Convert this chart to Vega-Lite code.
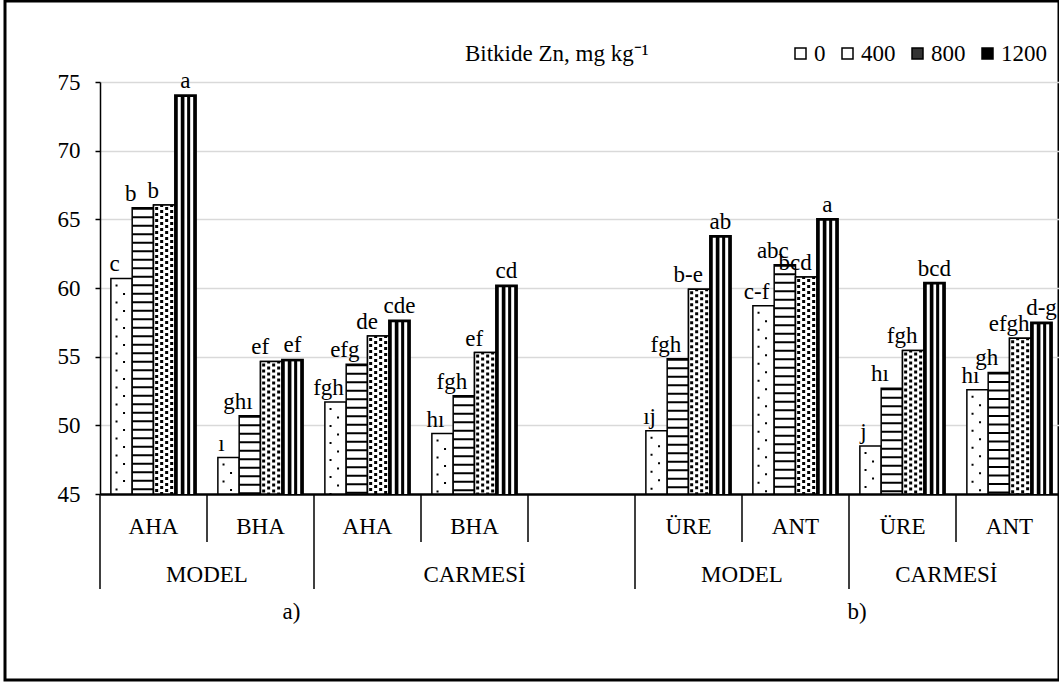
{
  "$schema": "https://vega.github.io/schema/vega-lite/v6.json",
  "width": 1054,
  "height": 679,
  "autosize": "none",
  "padding": {"left": 5, "top": 1, "right": 0, "bottom": 4},
  "background": "white",
  "config": {
    "font": "Liberation Serif",
    "view": {"stroke": "black", "strokeWidth": 3},
    "text": {"font": "Liberation Serif", "fontSize": 23, "color": "black"}
  },
  "data": {
    "values": [
      {"k": "AHA", "Zn": "0", "v": 60.7, "t": "c"},
      {"k": "AHA", "Zn": "400", "v": 65.85, "t": "b"},
      {"k": "AHA", "Zn": "800", "v": 66.05, "t": "b"},
      {"k": "AHA", "Zn": "1200", "v": 74.05, "t": "a"},
      {"k": "BHA", "Zn": "0", "v": 47.65, "t": "ı"},
      {"k": "BHA", "Zn": "400", "v": 50.7, "t": "ghı"},
      {"k": "BHA", "Zn": "800", "v": 54.65, "t": "ef"},
      {"k": "BHA", "Zn": "1200", "v": 54.8, "t": "ef"},
      {"k": "AHA ", "Zn": "0", "v": 51.7, "t": "fgh"},
      {"k": "AHA ", "Zn": "400", "v": 54.45, "t": "efg"},
      {"k": "AHA ", "Zn": "800", "v": 56.5, "t": "de"},
      {"k": "AHA ", "Zn": "1200", "v": 57.65, "t": "cde"},
      {"k": "BHA ", "Zn": "0", "v": 49.4, "t": "hı"},
      {"k": "BHA ", "Zn": "400", "v": 52.15, "t": "fgh"},
      {"k": "BHA ", "Zn": "800", "v": 55.3, "t": "ef"},
      {"k": "BHA ", "Zn": "1200", "v": 60.2, "t": "cd"},
      {"k": "ÜRE", "Zn": "0", "v": 49.6, "t": "ıj"},
      {"k": "ÜRE", "Zn": "400", "v": 54.85, "t": "fgh"},
      {"k": "ÜRE", "Zn": "800", "v": 59.9, "t": "b-e"},
      {"k": "ÜRE", "Zn": "1200", "v": 63.8, "t": "ab"},
      {"k": "ANT", "Zn": "0", "v": 58.7, "t": "c-f"},
      {"k": "ANT", "Zn": "400", "v": 61.7, "t": "abc"},
      {"k": "ANT", "Zn": "800", "v": 60.8, "t": "bcd"},
      {"k": "ANT", "Zn": "1200", "v": 65.05, "t": "a"},
      {"k": "ÜRE ", "Zn": "0", "v": 48.5, "t": "j"},
      {"k": "ÜRE ", "Zn": "400", "v": 52.7, "t": "hı"},
      {"k": "ÜRE ", "Zn": "800", "v": 55.45, "t": "fgh"},
      {"k": "ÜRE ", "Zn": "1200", "v": 60.4, "t": "bcd"},
      {"k": "ANT ", "Zn": "0", "v": 52.6, "t": "hı"},
      {"k": "ANT ", "Zn": "400", "v": 53.85, "t": "gh"},
      {"k": "ANT ", "Zn": "800", "v": 56.35, "t": "efgh"},
      {"k": "ANT ", "Zn": "1200", "v": 57.5, "t": "d-g"},
      {"kind": "l1", "k": "AHA", "t": "AHA"},
      {"kind": "l1", "k": "BHA", "t": "BHA"},
      {"kind": "l1", "k": "AHA ", "t": "AHA"},
      {"kind": "l1", "k": "BHA ", "t": "BHA"},
      {"kind": "l1", "k": "ÜRE", "t": "ÜRE"},
      {"kind": "l1", "k": "ANT", "t": "ANT"},
      {"kind": "l1", "k": "ÜRE ", "t": "ÜRE"},
      {"kind": "l1", "k": "ANT ", "t": "ANT"},
      {"kind": "g2", "k": "BHA", "t": "MODEL"},
      {"kind": "g2", "k": "ANT", "t": "MODEL"},
      {"kind": "cA", "k": "BHA ", "t": "CARMESİ"},
      {"kind": "cB", "k": "ÜRE ", "t": "CARMESİ"},
      {"kind": "pa", "k": "BHA", "t": "a)"},
      {"kind": "pb", "k": "ÜRE ", "t": "b)"},
      {"kind": "t1", "k": "BHA"},
      {"kind": "t1", "k": "BHA "},
      {"kind": "t1", "k": "  "},
      {"kind": "t1", "k": "ANT"},
      {"kind": "t1", "k": "ANT "},
      {"kind": "sep", "k": "AHA"},
      {"kind": "sep", "k": "AHA "},
      {"kind": "sep", "k": "ÜRE"},
      {"kind": "sep", "k": "ÜRE "}
    ]
  },
  "encoding": {
    "x": {
      "field": "k", "type": "nominal",
      "scale": {"domain": ["AHA", "BHA", "AHA ", "BHA ", "  ", "ÜRE", "ANT", "ÜRE ", "ANT "], "range": [95, 1058], "paddingInner": 0, "paddingOuter": 0},
      "axis": null
    },
    "y": {
      "field": "v", "type": "quantitative",
      "scale": {"domain": [45, 75], "range": [493, 81], "nice": false, "zero": false},
      "axis": {"title": null, "offset": -95, "values": [45, 50, 55, 60, 65, 70, 75], "tickSize": 5, "tickWidth": 1.5, "tickColor": "black", "domainColor": "black", "domainWidth": 1.5, "labelFont": "Liberation Serif", "labelFontSize": 23, "labelColor": "black", "labelPadding": 15, "grid": true, "gridColor": {"condition": {"test": "datum.value === 45", "value": "black"}, "value": "#d9d9d9"}, "gridWidth": {"condition": {"test": "datum.value === 45", "value": 2.5}, "value": 1.5}}
    }
  },
  "layer": [
    {
      "transform": [{"filter": "isValid(datum.Zn)"}],
      "mark": {"type": "bar", "stroke": "black", "strokeWidth": 1.5},
      "encoding": {
        "xOffset": {"field": "Zn", "type": "nominal", "scale": {"domain": ["0", "400", "800", "1200"], "paddingInner": 0, "paddingOuter": 0.51}},
        "y2": {"datum": 45},
        "fill": {
          "field": "Zn", "type": "nominal",
          "scale": {"domain": ["0", "400", "800", "1200"], "range": ["white", "white", "#333333", "black"]},
          "legend": {"title": "Bitkide Zn, mg kg⁻¹", "orient": "none", "legendX": 460, "legendY": 41, "direction": "horizontal", "titleOrient": "left", "titlePadding": 140, "titleLimit": 600, "titleFont": "Liberation Serif", "titleFontSize": 23, "titleFontWeight": "normal", "titleColor": "black", "symbolType": "square", "symbolSize": 121, "symbolStrokeColor": "black", "symbolStrokeWidth": 1.5, "symbolOpacity": 1, "labelFont": "Liberation Serif", "labelFontSize": 23, "labelColor": "black", "labelOffset": 2, "columnPadding": 10, "gridAlign": "none"}
        }
      }
    },
    {
      "transform": [{"filter": "datum.Zn == '800'"}],
      "mark": {"type": "bar", "fill": "white", "stroke": "black", "strokeWidth": 1.5},
      "encoding": {
        "xOffset": {"field": "Zn", "type": "nominal", "scale": {"domain": ["0", "400", "800", "1200"], "paddingInner": 0, "paddingOuter": 0.51}},
        "y2": {"datum": 45}
      }
    },
    {
      "transform": [{"filter": "datum.Zn == '400'"}],
      "mark": {"type": "rule", "color": "black", "strokeWidth": 21, "strokeDash": [2, 6.5], "strokeCap": "butt"},
      "encoding": {
        "x": {"field": "k", "type": "nominal", "bandPosition": 0.4005, "axis": null, "scale": {"domain": ["AHA", "BHA", "AHA ", "BHA ", "  ", "ÜRE", "ANT", "ÜRE ", "ANT "], "range": [95, 1058], "paddingInner": 0, "paddingOuter": 0}},
        "y2": {"datum": 45}
      }
    },
    {
      "transform": [{"filter": "datum.Zn == '0'"}],
      "mark": {"type": "rule", "color": "black", "strokeWidth": 2, "strokeDash": [2, 15], "strokeDashOffset": -6, "strokeCap": "butt"},
      "encoding": {
        "x": {"field": "k", "type": "nominal", "bandPosition": 0.1545, "axis": null, "scale": {"domain": ["AHA", "BHA", "AHA ", "BHA ", "  ", "ÜRE", "ANT", "ÜRE ", "ANT "], "range": [95, 1058], "paddingInner": 0, "paddingOuter": 0}},
        "y2": {"datum": 45}
      }
    },
    {
      "transform": [{"filter": "datum.Zn == '0'"}],
      "mark": {"type": "rule", "color": "black", "strokeWidth": 2, "strokeDash": [2, 15], "strokeDashOffset": -14.5, "strokeCap": "butt"},
      "encoding": {
        "x": {"field": "k", "type": "nominal", "bandPosition": 0.2246, "axis": null, "scale": {"domain": ["AHA", "BHA", "AHA ", "BHA ", "  ", "ÜRE", "ANT", "ÜRE ", "ANT "], "range": [95, 1058], "paddingInner": 0, "paddingOuter": 0}},
        "y2": {"datum": 45}
      }
    },
    {
      "transform": [{"filter": "datum.Zn == '800'"}],
      "mark": {"type": "rule", "color": "black", "strokeWidth": 3, "strokeDash": [3, 3], "strokeDashOffset": -2, "strokeCap": "butt"},
      "encoding": {
        "x": {"field": "k", "type": "nominal", "bandPosition": 0.5295, "axis": null, "scale": {"domain": ["AHA", "BHA", "AHA ", "BHA ", "  ", "ÜRE", "ANT", "ÜRE ", "ANT "], "range": [95, 1058], "paddingInner": 0, "paddingOuter": 0}},
        "y2": {"datum": 45}
      }
    },
    {
      "transform": [{"filter": "datum.Zn == '800'"}],
      "mark": {"type": "rule", "color": "black", "strokeWidth": 3, "strokeDash": [3, 3], "strokeDashOffset": 1, "strokeCap": "butt"},
      "encoding": {
        "x": {"field": "k", "type": "nominal", "bandPosition": 0.5763, "axis": null, "scale": {"domain": ["AHA", "BHA", "AHA ", "BHA ", "  ", "ÜRE", "ANT", "ÜRE ", "ANT "], "range": [95, 1058], "paddingInner": 0, "paddingOuter": 0}},
        "y2": {"datum": 45}
      }
    },
    {
      "transform": [{"filter": "datum.Zn == '800'"}],
      "mark": {"type": "rule", "color": "black", "strokeWidth": 3, "strokeDash": [3, 3], "strokeDashOffset": -2, "strokeCap": "butt"},
      "encoding": {
        "x": {"field": "k", "type": "nominal", "bandPosition": 0.623, "axis": null, "scale": {"domain": ["AHA", "BHA", "AHA ", "BHA ", "  ", "ÜRE", "ANT", "ÜRE ", "ANT "], "range": [95, 1058], "paddingInner": 0, "paddingOuter": 0}},
        "y2": {"datum": 45}
      }
    },
    {
      "transform": [{"filter": "datum.Zn == '800'"}],
      "mark": {"type": "rule", "color": "black", "strokeWidth": 3, "strokeDash": [3, 3], "strokeDashOffset": 1, "strokeCap": "butt"},
      "encoding": {
        "x": {"field": "k", "type": "nominal", "bandPosition": 0.6697, "axis": null, "scale": {"domain": ["AHA", "BHA", "AHA ", "BHA ", "  ", "ÜRE", "ANT", "ÜRE ", "ANT "], "range": [95, 1058], "paddingInner": 0, "paddingOuter": 0}},
        "y2": {"datum": 45}
      }
    },
    {
      "transform": [{"filter": "datum.Zn == '1200'"}],
      "mark": {"type": "rule", "color": "white", "strokeWidth": 3, "strokeCap": "butt", "yOffset": 2},
      "encoding": {
        "x": {"field": "k", "type": "nominal", "bandPosition": 0.7409, "axis": null, "scale": {"domain": ["AHA", "BHA", "AHA ", "BHA ", "  ", "ÜRE", "ANT", "ÜRE ", "ANT "], "range": [95, 1058], "paddingInner": 0, "paddingOuter": 0}},
        "y2": {"datum": 45}
      }
    },
    {
      "transform": [{"filter": "datum.Zn == '1200'"}],
      "mark": {"type": "rule", "color": "white", "strokeWidth": 2.7, "strokeCap": "butt", "yOffset": 2},
      "encoding": {
        "x": {"field": "k", "type": "nominal", "bandPosition": 0.8017, "axis": null, "scale": {"domain": ["AHA", "BHA", "AHA ", "BHA ", "  ", "ÜRE", "ANT", "ÜRE ", "ANT "], "range": [95, 1058], "paddingInner": 0, "paddingOuter": 0}},
        "y2": {"datum": 45}
      }
    },
    {
      "transform": [{"filter": "datum.Zn == '1200'"}],
      "mark": {"type": "rule", "color": "white", "strokeWidth": 3, "strokeCap": "butt", "yOffset": 2},
      "encoding": {
        "x": {"field": "k", "type": "nominal", "bandPosition": 0.8568, "axis": null, "scale": {"domain": ["AHA", "BHA", "AHA ", "BHA ", "  ", "ÜRE", "ANT", "ÜRE ", "ANT "], "range": [95, 1058], "paddingInner": 0, "paddingOuter": 0}},
        "y2": {"datum": 45}
      }
    },
    {
      "transform": [{"filter": "datum.Zn == '0'"}],
      "mark": {"type": "text", "baseline": "alphabetic", "dy": -7, "dx": -7, "fontSize": 23},
      "encoding": {
        "xOffset": {"field": "Zn", "type": "nominal", "scale": {"domain": ["0", "400", "800", "1200"], "paddingInner": 0, "paddingOuter": 0.51}},
        "text": {"field": "t"}
      }
    },
    {
      "transform": [{"filter": "datum.Zn == '400'"}],
      "mark": {"type": "text", "baseline": "alphabetic", "dy": -7, "dx": -12, "fontSize": 23},
      "encoding": {
        "xOffset": {"field": "Zn", "type": "nominal", "scale": {"domain": ["0", "400", "800", "1200"], "paddingInner": 0, "paddingOuter": 0.51}},
        "text": {"field": "t"}
      }
    },
    {
      "transform": [{"filter": "datum.Zn == '800'"}],
      "mark": {"type": "text", "baseline": "alphabetic", "dy": -7, "dx": -11, "fontSize": 23},
      "encoding": {
        "xOffset": {"field": "Zn", "type": "nominal", "scale": {"domain": ["0", "400", "800", "1200"], "paddingInner": 0, "paddingOuter": 0.51}},
        "text": {"field": "t"}
      }
    },
    {
      "transform": [{"filter": "datum.Zn == '1200'"}],
      "mark": {"type": "text", "baseline": "alphabetic", "dy": -7, "dx": 0, "fontSize": 23},
      "encoding": {
        "xOffset": {"field": "Zn", "type": "nominal", "scale": {"domain": ["0", "400", "800", "1200"], "paddingInner": 0, "paddingOuter": 0.51}},
        "text": {"field": "t"}
      }
    },
    {
      "transform": [{"filter": "datum.kind == 'l1'"}],
      "mark": {"type": "text", "baseline": "middle", "dy": 186.5, "fontSize": 23},
      "encoding": {
        "y": null,
        "text": {"field": "t"}
      }
    },
    {
      "transform": [{"filter": "datum.kind == 'g2'"}],
      "mark": {"type": "text", "baseline": "middle", "dy": 234.5, "fontSize": 23},
      "encoding": {
        "x": {"field": "k", "type": "nominal", "bandPosition": 0, "axis": null, "scale": {"domain": ["AHA", "BHA", "AHA ", "BHA ", "  ", "ÜRE", "ANT", "ÜRE ", "ANT "], "range": [95, 1058], "paddingInner": 0, "paddingOuter": 0}},
        "y": null,
        "text": {"field": "t"}
      }
    },
    {
      "transform": [{"filter": "datum.kind == 'cA'"}],
      "mark": {"type": "text", "baseline": "middle", "dy": 234.5, "fontSize": 23},
      "encoding": {
        "x": {"field": "k", "type": "nominal", "bandPosition": 0.5, "axis": null, "scale": {"domain": ["AHA", "BHA", "AHA ", "BHA ", "  ", "ÜRE", "ANT", "ÜRE ", "ANT "], "range": [95, 1058], "paddingInner": 0, "paddingOuter": 0}},
        "y": null,
        "text": {"field": "t"}
      }
    },
    {
      "transform": [{"filter": "datum.kind == 'cB'"}],
      "mark": {"type": "text", "baseline": "middle", "dy": 234.5, "fontSize": 23},
      "encoding": {
        "x": {"field": "k", "type": "nominal", "bandPosition": 0.91, "axis": null, "scale": {"domain": ["AHA", "BHA", "AHA ", "BHA ", "  ", "ÜRE", "ANT", "ÜRE ", "ANT "], "range": [95, 1058], "paddingInner": 0, "paddingOuter": 0}},
        "y": null,
        "text": {"field": "t"}
      }
    },
    {
      "transform": [{"filter": "datum.kind == 'pa'"}],
      "mark": {"type": "text", "baseline": "middle", "dy": 271.5, "fontSize": 23},
      "encoding": {
        "x": {"field": "k", "type": "nominal", "bandPosition": 0.79, "axis": null, "scale": {"domain": ["AHA", "BHA", "AHA ", "BHA ", "  ", "ÜRE", "ANT", "ÜRE ", "ANT "], "range": [95, 1058], "paddingInner": 0, "paddingOuter": 0}},
        "y": null,
        "text": {"field": "t"}
      }
    },
    {
      "transform": [{"filter": "datum.kind == 'pb'"}],
      "mark": {"type": "text", "baseline": "middle", "dy": 271.5, "fontSize": 23},
      "encoding": {
        "x": {"field": "k", "type": "nominal", "bandPosition": 0.075, "axis": null, "scale": {"domain": ["AHA", "BHA", "AHA ", "BHA ", "  ", "ÜRE", "ANT", "ÜRE ", "ANT "], "range": [95, 1058], "paddingInner": 0, "paddingOuter": 0}},
        "y": null,
        "text": {"field": "t"}
      }
    },
    {
      "transform": [{"filter": "datum.kind == 't1'"}],
      "mark": {"type": "tick", "color": "black", "orient": "vertical", "thickness": 1.5, "size": 48, "yOffset": 177.5, "opacity": 1},
      "encoding": {
        "x": {"field": "k", "type": "nominal", "bandPosition": 0, "axis": null, "scale": {"domain": ["AHA", "BHA", "AHA ", "BHA ", "  ", "ÜRE", "ANT", "ÜRE ", "ANT "], "range": [95, 1058], "paddingInner": 0, "paddingOuter": 0}},
        "y": null
      }
    },
    {
      "transform": [{"filter": "datum.kind == 'sep'"}],
      "mark": {"type": "tick", "color": "black", "orient": "vertical", "thickness": 1.5, "size": 95, "yOffset": 201, "opacity": 1},
      "encoding": {
        "x": {"field": "k", "type": "nominal", "bandPosition": 0, "axis": null, "scale": {"domain": ["AHA", "BHA", "AHA ", "BHA ", "  ", "ÜRE", "ANT", "ÜRE ", "ANT "], "range": [95, 1058], "paddingInner": 0, "paddingOuter": 0}},
        "y": null
      }
    }
  ]
}
